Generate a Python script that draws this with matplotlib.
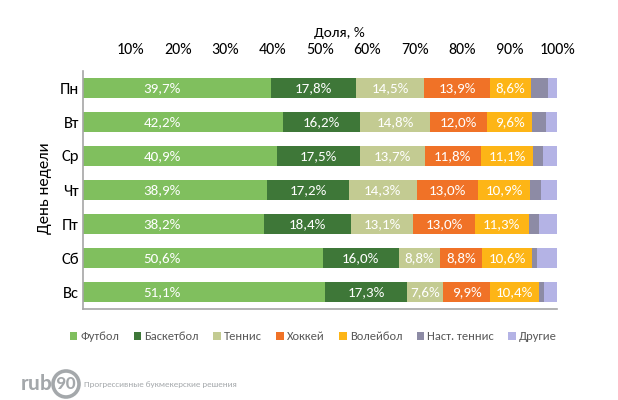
import numpy as np
import matplotlib.pyplot as plt
from matplotlib.patches import Ellipse

plt.rcParams['font.family'] = ['Carlito', 'DejaVu Sans']

days = ["Пн", "Вт", "Ср", "Чт", "Пт", "Сб", "Вс"]
sports = ["Футбол", "Баскетбол", "Теннис", "Хоккей", "Волейбол", "Наст. теннис", "Другие"]

football   = [39.7, 42.2, 40.9, 38.9, 38.2, 50.6, 51.1]
basketball = [17.8, 16.2, 17.5, 17.2, 18.4, 16.0, 17.3]
tennis     = [14.5, 14.8, 13.7, 14.3, 13.1, 8.8, 7.6]
hockey     = [13.9, 12.0, 11.8, 13.0, 13.0, 8.8, 9.9]
volleyball = [8.6, 9.6, 11.1, 10.9, 11.3, 10.6, 10.4]
table_ten  = [3.6, 2.8, 2.0, 2.3, 2.3, 1.0, 0.9]
others     = [1.9, 2.4, 3.0, 3.4, 3.7, 4.2, 2.8]

series = [football, basketball, tennis, hockey, volleyball, table_ten, others]
colors = ["#80bf5e", "#3e7738", "#c3cb92", "#f07227", "#fdb516", "#8d8ba5", "#b4b3e5"]
labeled = [True, True, True, True, True, False, False]

fig = plt.figure(figsize=(6.18, 4.0), dpi=100)
ax = fig.add_axes([83/618, 1 - 309/400, 474/618, 238/400])

y = np.arange(len(days))
left = np.zeros(len(days))
for name, vals, col, lab in zip(sports, series, colors, labeled):
    vals = np.array(vals)
    ax.barh(y, vals, left=left, height=0.6, color=col, label=name)
    if lab:
        for i, v in enumerate(vals):
            # football labels sit at a fixed spot in the original
            xc = 16.7 if name == "Футбол" else left[i] + v / 2
            ax.text(xc, y[i], f"{v:.1f}%".replace(".", ","), ha="center", va="center",
                    color="white", fontsize=10.8)
    left += vals

ax.set_xlim(0, 100)
ax.set_ylim(len(days) - 0.5, -0.5)
ax.set_yticks(y)
ax.set_yticklabels(days, fontsize=12)
ax.set_xticks(np.arange(10, 101, 10))
ax.set_xticklabels([f"{t}%" for t in range(10, 101, 10)], fontsize=11.5)
ax.xaxis.tick_top()
ax.tick_params(axis="y", length=0, pad=3)
ax.tick_params(axis="x", length=0, pad=10)
for s in ["top", "right"]:
    ax.spines[s].set_visible(False)
for s in ["left", "bottom"]:
    ax.spines[s].set_color("#a6a6a6")
    ax.spines[s].set_linewidth(1.2)

fig.text(339/618, 1 - 33/400, "Доля, %", ha="center", va="center", fontsize=11)
fig.text(45/618, 1 - 188/400, "День недели", ha="center", va="center",
         rotation=90, fontsize=12)

fig.legend(loc="center", bbox_to_anchor=(0.507, 1 - 337/400), ncol=7, frameon=False,
           handlelength=0.6, handleheight=0.6, handletextpad=0.25, columnspacing=1.15,
           fontsize=9, labelcolor="#595959")

# logo
logo_col = "#a4a8ab"
fig.text(21/618, 1 - 384/400, "rub", ha="left", va="center", fontsize=16,
         color=logo_col, fontweight="bold")
fig.add_artist(Ellipse((66/618, 1 - 384/400), 26/618, 26/400, transform=fig.transFigure,
                       fill=False, ec=logo_col, lw=2.6))
fig.text(66/618, 1 - 384/400, "90", ha="center", va="center", fontsize=14,
         color=logo_col, fontweight="bold")
fig.text(84/618, 1 - 384/400, "Прогрессивные букмекерские решения", ha="left",
         va="center", fontsize=6.5, color=logo_col)

fig.savefig("out.png", dpi=100)
